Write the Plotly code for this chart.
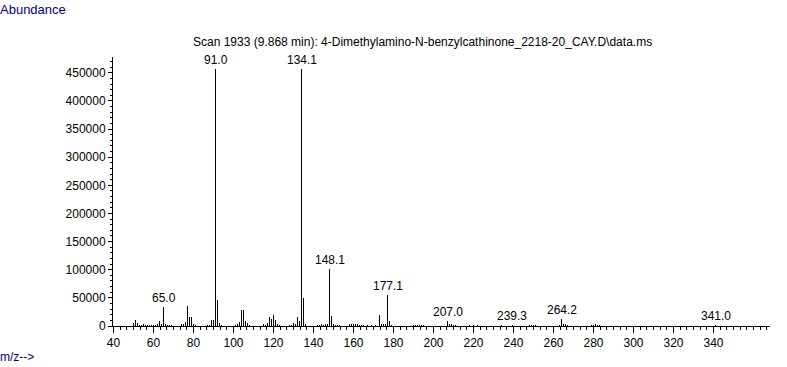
import plotly.graph_objects as go

# Peak list (m/z, abundance)
mz = [50, 51, 52, 53, 54, 55, 56, 57, 58, 59, 60, 61, 62, 63, 64, 65.0, 66, 67, 68, 69,
      74, 75, 76, 77, 78, 79, 80, 81, 87, 88, 89, 90, 91.0, 92, 93, 94,
      101, 102, 103, 104, 105, 106, 107, 108,
      115, 116, 117, 118, 119, 120, 121, 122, 123,
      128, 129, 130, 131, 132, 133, 134.1, 135, 136,
      142, 143, 144, 145, 146, 147, 148.1, 149, 150, 151, 152, 153,
      158, 159, 160, 161, 162, 163, 164, 165, 167, 169, 171,
      173, 174, 175, 176, 177.1, 178, 179,
      190, 191, 192, 193, 194, 195,
      207.0, 208, 209, 210, 211, 218, 220, 222,
      234, 239.3, 248, 249, 250, 251,
      263, 264.2, 265, 266, 267,
      279, 280, 281, 282, 283, 341.0]
abundance = [6000, 10700, 6000, 2500, 2000, 3000, 2000, 2000, 1500, 2000, 2000, 2500, 3000, 9500, 3000, 34500, 3000, 2000, 2000, 1500,
             3500, 3500, 7000, 36000, 16000, 16000, 3000, 1500, 2000, 2500, 10700, 10700, 457000, 46000, 5000, 2000,
             2000, 4000, 8000, 28500, 28500, 9500, 5000, 2000,
             3500, 2000, 6000, 16000, 12500, 20000, 11000, 3000, 2000,
             2500, 2000, 5000, 3500, 16000, 9000, 457000, 50000, 4000,
             2000, 2000, 3000, 2000, 3000, 3000, 101000, 18000, 3000, 2000, 2000, 1500,
             3000, 3000, 3000, 4000, 3000, 2500, 2000, 1500, 2500, 2500, 2500,
             19600, 3500, 3500, 3500, 55000, 9500, 2000,
             2000, 2000, 2500, 2000, 2000, 1500,
             8300, 3000, 3500, 2500, 2000, 1500, 1500, 1500,
             1500, 1500, 2000, 2000, 2500, 2000,
             2500, 12000, 3500, 3000, 2000,
             2000, 2500, 3500, 2500, 2000, 1200]

label_mz = [65.0, 91.0, 134.1, 148.1, 177.1, 207.0, 239.3, 264.2, 341.0]
label_text = ["65.0", "91.0", "134.1", "148.1", "177.1", "207.0", "239.3", "264.2", "341.0"]

x_ticks = [40, 60, 80, 100, 120, 140, 160, 180, 200, 220, 240, 260, 280, 300, 320, 340]
y_ticks = [0, 50000, 100000, 150000, 200000, 250000, 300000, 350000, 400000, 450000]

title_text = "Scan 1933 (9.868 min): 4-Dimethylamino-N-benzylcathinone_2218-20_CAY.D\\data.ms"

xs, ys = [], []
for m, a in zip(mz, abundance):
    xs += [m, m, None]
    ys += [0, a, None]

FONT = "Liberation Sans, Arial"
L, R, T, B = 113, 17, 57, 41
plot_w = 787 - L - R

fig = go.Figure()
fig.add_trace(go.Scatter(x=xs, y=ys, mode="lines",
                         line=dict(color="black", width=1), hoverinfo="skip",
                         showlegend=False))

ab_lookup = dict(zip(mz, abundance))
for m, t in zip(label_mz, label_text):
    fig.add_annotation(x=m, y=ab_lookup[m], text=t, showarrow=False,
                       xanchor="center", yanchor="bottom", yshift=0,
                       font=dict(family=FONT, size=12, color="black"))

fig.add_annotation(xref="paper", yref="paper", x=(191 - L) / plot_w, y=1.0, yshift=6,
                   text=title_text, showarrow=False, xanchor="left", yanchor="bottom",
                   font=dict(family=FONT, size=12, color="black"))

fig.add_annotation(xref="paper", yref="paper", x=0, y=1, xshift=-L - 2, yshift=38,
                   text="Abundance", showarrow=False, xanchor="left", yanchor="bottom",
                   font=dict(family=FONT, size=13, color="#000080"))
fig.add_annotation(xref="paper", yref="paper", x=0, y=0, xshift=-L - 2, yshift=-40,
                   text="m/z-->", showarrow=False, xanchor="left", yanchor="bottom",
                   font=dict(family=FONT, size=12, color="#000080"))

fig.update_layout(
    width=787, height=367,
    margin=dict(l=L, r=R, t=T, b=B),
    paper_bgcolor="white", plot_bgcolor="white",
    font=dict(family=FONT, size=12, color="black"),
    xaxis=dict(range=[39.75, 368.25], tickmode="array", tickvals=x_ticks,
               ticks="outside", ticklen=6, tickcolor="black", tickwidth=1,
               showline=True, linecolor="black", linewidth=1,
               showgrid=False, zeroline=False,
               minor=dict(dtick=20/6, tick0=40, ticks="outside", ticklen=3,
                          tickcolor="black", showgrid=False),
               tickfont=dict(size=12)),
    yaxis=dict(range=[0, 478000], tickmode="array", tickvals=y_ticks,
               tickformat="d",
               ticks="outside", ticklen=4, tickcolor="black", tickwidth=1,
               showline=True, linecolor="black", linewidth=1,
               showgrid=False, zeroline=False,
               minor=dict(dtick=10000, ticks="outside", ticklen=2,
                          tickcolor="black", showgrid=False),
               tickfont=dict(size=12)),
)

post = """
document.querySelectorAll('.scatterlayer path.js-line').forEach(function(p){
  p.style.shapeRendering = 'crispEdges';
});
"""
fig.write_html("out.html", post_script=post)
